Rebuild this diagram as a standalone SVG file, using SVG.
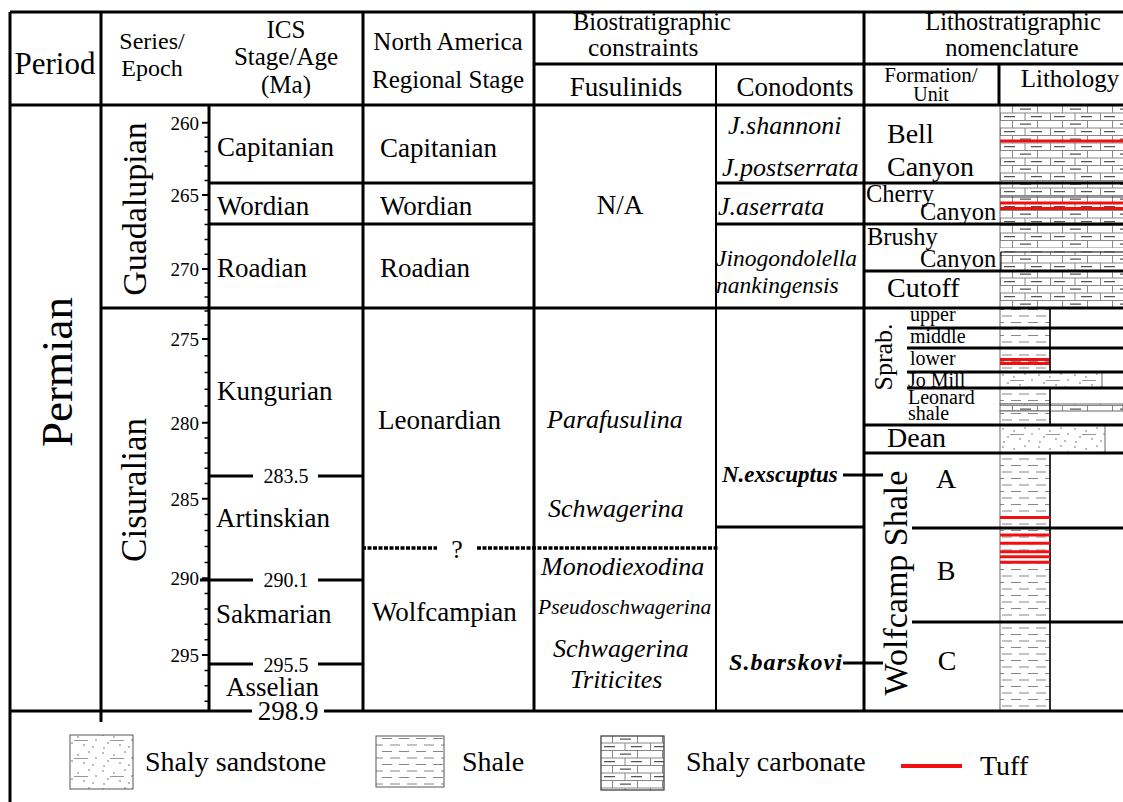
<svg xmlns="http://www.w3.org/2000/svg" width="1123" height="802" viewBox="0 0 1123 802">
<style>
text{font-family:"Liberation Serif","Times New Roman",serif;fill:#000}
.it{font-style:italic}
.bi{font-style:italic;font-weight:bold}
.m{text-anchor:middle}
.e{text-anchor:end}
.k{stroke:#000;stroke-width:3;fill:none}
.k2{stroke:#000;stroke-width:2;fill:none}
.tk{stroke:#000;stroke-width:2}
.tuff{stroke:#f01010;stroke-width:3}
.bx{stroke:#666;stroke-width:1}
</style>
<defs>
<pattern id="carb" patternUnits="userSpaceOnUse" x="1000" y="105" width="50" height="15">
<rect width="50" height="15" fill="#fff"/>
<path d="M0 0.5H50M0 8H50" stroke="#888" stroke-width="1"/>
<path d="M12.5 0.5V8M37.5 0.5V8M0.5 8V15M25 8V15" stroke="#888" stroke-width="1"/>
<path d="M20 4.2H31M4 11.6H15M31 11.6H42" stroke="#555" stroke-width="1.2"/>
</pattern>
<pattern id="shale" patternUnits="userSpaceOnUse" x="1000" y="105" width="17" height="13">
<rect width="17" height="13" fill="#fff"/>
<path d="M2 3H12M-6 9.5H4M11 9.5H21" stroke="#888" stroke-width="1.2"/>
</pattern>
<pattern id="sand" patternUnits="userSpaceOnUse" x="1000" y="372" width="36" height="18">
<rect width="36" height="18" fill="#fff"/>
<g fill="#666"><circle cx="3" cy="3" r="0.8"/><circle cx="14" cy="5" r="0.8"/><circle cx="25" cy="2" r="0.8"/><circle cx="32" cy="8" r="0.8"/><circle cx="8" cy="11" r="0.8"/><circle cx="20" cy="13" r="0.8"/><circle cx="29" cy="15" r="0.8"/><circle cx="4" cy="16" r="0.8"/></g>
<path d="M10 8.5H24" stroke="#999" stroke-width="1"/>
</pattern>
</defs>
<rect width="1123" height="802" fill="#fff"/>

<g id="lithology">
<rect x="1000" y="105" width="123" height="203" fill="url(#carb)"/>
<line x1="1000" y1="105" x2="1000" y2="308" class="bx"/>
<rect x="1000" y="248" width="123" height="3.5" fill="#fff"/>
<path d="M1001 252H1123M1001 252V271" stroke="#000" stroke-width="1"/>
<line x1="1000" y1="197" x2="1123" y2="197" stroke="#333" stroke-width="1"/>
<line x1="1000" y1="141" x2="1123" y2="141" class="tuff"/>
<line x1="1000" y1="203" x2="1123" y2="203" class="tuff"/>
<line x1="1000" y1="208.5" x2="1123" y2="208.5" class="tuff"/>
<rect x="1000" y="308" width="50" height="64" fill="url(#shale)" class="bx"/>
<line x1="1000" y1="359.5" x2="1050" y2="359.5" class="tuff"/>
<line x1="1000" y1="363.5" x2="1050" y2="363.5" class="tuff"/>
<rect x="1000" y="372" width="102" height="16" fill="url(#sand)" class="bx"/>
<rect x="1000" y="388" width="50" height="16" fill="url(#shale)" class="bx"/>
<rect x="1000" y="404" width="123" height="7" fill="url(#carb)" class="bx"/>
<rect x="1000" y="411" width="50" height="14" fill="url(#shale)" class="bx"/>
<rect x="1000" y="425" width="105" height="28" fill="url(#sand)" class="bx"/>
<rect x="1000" y="453" width="50" height="258" fill="url(#shale)" class="bx"/>
<line x1="1050" y1="308" x2="1050" y2="372" stroke="#000" stroke-width="1.5"/>
<line x1="1050" y1="388" x2="1050" y2="425" stroke="#000" stroke-width="1.5"/>
<line x1="1050" y1="453" x2="1050" y2="711" stroke="#000" stroke-width="1.5"/>
<line x1="1000" y1="517.5" x2="1050" y2="517.5" class="tuff"/>
<line x1="1000" y1="535" x2="1050" y2="535" class="tuff"/>
<line x1="1000" y1="543.3" x2="1050" y2="543.3" class="tuff"/>
<line x1="1000" y1="551.7" x2="1050" y2="551.7" class="tuff"/>
<line x1="1000" y1="556.8" x2="1050" y2="556.8" class="tuff"/>
<line x1="1000" y1="562.3" x2="1050" y2="562.3" class="tuff"/>
</g>

<g id="connectors">
<path class="k" d="M10 12H1123M10 105H1123M534 64H1123M10 12V802M101 12V722M209 105V711M363 12V711M534 12V711M864 12V711M999 64V105"/>
<path class="k2" d="M716 64V711"/>
<path class="k" d="M209 183H534M209 224H534M101 308H1123M716 183H1123M716 224H1123M864 271H1123"/>
<path class="k" d="M907 328H1123M907 348H1123M907 372H1123M907 388H1123M864 425H1123M864 453H1123"/>
<path class="k" d="M716 527H864M912 528H1123M912 622H1123"/>
<path class="k" d="M209 476H253M318 476H363M200 580H253M318 580H363M209 664H253M318 664H363"/>
<path class="k" d="M10 711H252M324 711H1123"/>
<path class="k" d="M843 475H883M843 663H883"/>
<path stroke="#000" stroke-width="3.5" stroke-dasharray="4 1.5" d="M362 548H437M477 548H718"/>
</g>

<g id="axis">
<path class="tk" d="M202 122.7H209M202 195H209M202 269H209M202 339H209M202 422.7H209M202 498.7H209M202 578.3H209M202 655H209"/>
<path stroke="#000" stroke-width="1.5" d="M204.5 137.2H209M204.5 151.6H209M204.5 166.1H209M204.5 180.5H209M204.5 209.8H209M204.5 224.6H209M204.5 239.4H209M204.5 254.2H209M204.5 283H209M204.5 297H209M204.5 311H209M204.5 325H209M204.5 355.7H209M204.5 372.5H209M204.5 389.2H209M204.5 405.9H209M204.5 437.9H209M204.5 453.1H209M204.5 468.3H209M204.5 483.5H209M204.5 514.6H209M204.5 530.5H209M204.5 546.4H209M204.5 562.4H209M204.5 593.6H209M204.5 609H209M204.5 624.3H209M204.5 639.7H209M204.5 670.4H209M204.5 685.8H209M204.5 701.2H209"/>
<g font-size="19">
<text x="199" y="129.5" class="e">260</text>
<text x="199" y="201.8" class="e">265</text>
<text x="199" y="275.8" class="e">270</text>
<text x="199" y="345.8" class="e">275</text>
<text x="199" y="429.5" class="e">280</text>
<text x="199" y="505.5" class="e">285</text>
<text x="199" y="585" class="e">290</text>
<text x="199" y="661.8" class="e">295</text>
</g>
</g>

<g id="header">
<text x="55" y="74" font-size="31" class="m">Period</text>
<text x="152" y="49" font-size="24" class="m">Series/</text>
<text x="152" y="76" font-size="24" class="m">Epoch</text>
<text x="286" y="38" font-size="25" class="m">ICS</text>
<text x="286" y="65" font-size="25" class="m">Stage/Age</text>
<text x="286" y="93" font-size="25" class="m">(Ma)</text>
<text x="448" y="50" font-size="25" class="m">North America</text>
<text x="448" y="88" font-size="25" class="m">Regional Stage</text>
<text x="573" y="30" font-size="24.5">Biostratigraphic</text>
<text x="588" y="56" font-size="25.5">constraints</text>
<text x="626" y="96" font-size="27" class="m">Fusulinids</text>
<text x="795" y="96" font-size="27" class="m">Conodonts</text>
<text x="1013" y="30" font-size="24.5" class="m">Lithostratigraphic</text>
<text x="1012" y="56" font-size="24.5" class="m">nomenclature</text>
<text x="931" y="82" font-size="21" class="m">Formation/</text>
<text x="931" y="101" font-size="20" class="m">Unit</text>
<text x="1070" y="87" font-size="25" class="m">Lithology</text>
</g>

<g id="period">
<text transform="translate(72 372) rotate(-90)" font-size="45" class="m">Permian</text>
</g>

<g id="series">
<text transform="translate(146 209) rotate(-90)" font-size="34" class="m">Guadalupian</text>
<text transform="translate(146 490) rotate(-90)" font-size="35" class="m">Cisuralian</text>
</g>

<g id="ics">
<g font-size="27">
<text x="217" y="156">Capitanian</text>
<text x="217" y="215">Wordian</text>
<text x="217" y="277">Roadian</text>
<text x="217" y="400">Kungurian</text>
<text x="216" y="527">Artinskian</text>
<text x="216" y="623">Sakmarian</text>
<text x="226" y="696">Asselian</text>
</g>
<text x="286" y="483" font-size="20" class="m">283.5</text>
<text x="286" y="587" font-size="20" class="m">290.1</text>
<text x="286" y="672" font-size="20" class="m">295.5</text>
<text x="288" y="720" font-size="27" class="m">298.9</text>
</g>

<g id="na">
<g font-size="27">
<text x="380" y="157">Capitanian</text>
<text x="380" y="215">Wordian</text>
<text x="380" y="277">Roadian</text>
<text x="378" y="429">Leonardian</text>
<text x="372" y="621">Wolfcampian</text>
</g>
<text x="457" y="558" font-size="26" class="m">?</text>
</g>

<g id="fusulinids">
<text x="620" y="214" font-size="27" class="m">N/A</text>
<g font-size="26">
<text x="547" y="428" class="it">Parafusulina</text>
<text x="548" y="517" class="it">Schwagerina</text>
<text x="541" y="575" class="it">Monodiexodina</text>
<text x="538" y="614" font-size="21.5" class="it">Pseudoschwagerina</text>
<text x="553" y="657" class="it">Schwagerina</text>
<text x="570" y="688" class="it">Triticites</text>
</g>
</g>

<g id="conodonts">
<g font-size="26">
<text x="728" y="134" class="it">J.shannoni</text>
<text x="722" y="176" class="it">J.postserrata</text>
<text x="718" y="215" class="it">J.aserrata</text>
<text x="716" y="266" font-size="23.5" class="it">Jinogondolella</text>
<text x="716" y="293" font-size="23.5" class="it">nankingensis</text>
</g>
<text x="722" y="482" font-size="23" class="bi">N.exscuptus</text>
<text x="729" y="670" font-size="24" class="bi" textLength="113" lengthAdjust="spacing">S.barskovi</text>
</g>

<g id="formation">
<g font-size="28">
<text x="887" y="143">Bell</text>
<text x="887" y="176">Canyon</text>
<text x="887" y="297">Cutoff</text>
<text x="887" y="447">Dean</text>
</g>
<g font-size="24.5">
<text x="866" y="202">Cherry</text>
<text x="920" y="220">Canyon</text>
<text x="867" y="245">Brushy</text>
<text x="920" y="267">Canyon</text>
</g>
<text transform="translate(892 357) rotate(-90)" font-size="26" class="m">Sprab.</text>
<g font-size="20">
<text x="910" y="321">upper</text>
<text x="910" y="343">middle</text>
<text x="910" y="365">lower</text>
<text x="908" y="387">Jo Mill</text>
<text x="908" y="404">Leonard</text>
<text x="908" y="420">shale</text>
</g>
<text transform="translate(907 583) rotate(-90)" font-size="34" class="m">Wolfcamp Shale</text>
<g font-size="28">
<text x="946" y="488" class="m">A</text>
<text x="946" y="580" class="m">B</text>
<text x="947" y="670" class="m">C</text>
</g>
</g>

<g id="legend">
<rect x="70" y="735" width="63" height="54" fill="url(#sand)" stroke="#555" stroke-width="1"/>
<text x="145" y="771" font-size="28">Shaly sandstone</text>
<rect x="376" y="736" width="68" height="51" fill="url(#shale)" stroke="#555" stroke-width="1"/>
<text x="462" y="771" font-size="28">Shale</text>
<rect x="601" y="736" width="63" height="54" fill="url(#carb)" stroke="#333" stroke-width="1.2"/>
<text x="686" y="771" font-size="28">Shaly carbonate</text>
<line x1="901" y1="766" x2="962" y2="766" stroke="#f01010" stroke-width="4"/>
<text x="980" y="775" font-size="28">Tuff</text>
</g>
</svg>
